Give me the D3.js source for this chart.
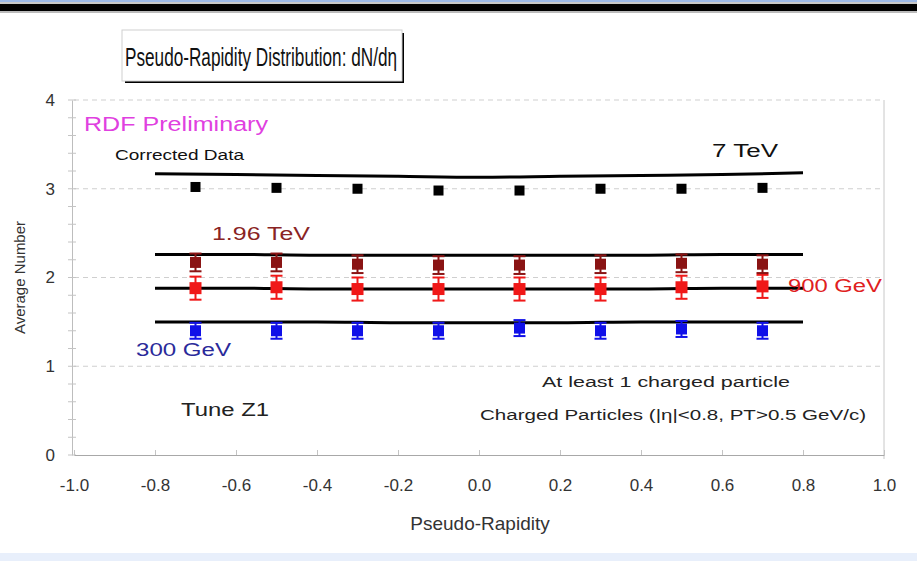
<!DOCTYPE html>
<html>
<head>
<meta charset="utf-8">
<script src="https://cdn.jsdelivr.net/npm/d3@7"></script>
<style>
  html, body { margin: 0; padding: 0; background: #fff; }
  svg { display: block; }
  text { font-family: "Liberation Sans", Arial, sans-serif; }
</style>
</head>
<body>
<svg id="chart" width="917" height="561"></svg>
<script>
// ---------- data ----------
const etaPoints = [-0.7, -0.5, -0.3, -0.1, 0.1, 0.3, 0.5, 0.7];
const data7TeV    = [3.02, 3.01, 3.00, 2.98, 2.98, 3.00, 3.00, 3.01];
const err7TeV     = [0, 0, 0, 0, 0, 0, 0, 0];
const data196TeV  = [2.17, 2.17, 2.15, 2.14, 2.14, 2.15, 2.16, 2.15];
const err196TeV   = [0.10, 0.10, 0.10, 0.10, 0.10, 0.10, 0.10, 0.10];
const data900GeV  = [1.88, 1.89, 1.87, 1.87, 1.87, 1.87, 1.89, 1.90];
const err900GeV   = [0.13, 0.13, 0.13, 0.13, 0.13, 0.13, 0.13, 0.13];
const data300GeV  = [1.40, 1.40, 1.40, 1.40, 1.43, 1.40, 1.42, 1.40];
const err300GeV   = [0.09, 0.09, 0.09, 0.09, 0.09, 0.09, 0.09, 0.09];

const etaTheory   = [-0.8, -0.6, -0.4, -0.2, 0.0, 0.2, 0.4, 0.6, 0.8];
const z1_7TeV     = [3.17, 3.16, 3.15, 3.14, 3.13, 3.14, 3.15, 3.16, 3.18];
const z1_196TeV   = [2.26, 2.26, 2.25, 2.25, 2.25, 2.25, 2.25, 2.26, 2.26];
const z1_900GeV   = [1.88, 1.88, 1.87, 1.87, 1.87, 1.87, 1.87, 1.88, 1.88];
const z1_300GeV   = [1.50, 1.50, 1.50, 1.49, 1.49, 1.49, 1.50, 1.50, 1.50];

const xTicks = [-1.0, -0.8, -0.6, -0.4, -0.2, 0.0, 0.2, 0.4, 0.6, 0.8, 1.0];
const yTicks = [0, 1, 2, 3, 4];

// ---------- layout ----------
const svg = d3.select("#chart");
const W = 917, H = 561;
const x = d3.scaleLinear().domain([-1, 1]).range([74, 884]);
const y = d3.scaleLinear().domain([0, 4]).range([455, 100]);

// background bands
svg.append("rect").attr("x", 0).attr("y", 0).attr("width", W).attr("height", 2).attr("fill", "#9db9e6");
svg.append("rect").attr("x", 0).attr("y", 2).attr("width", W).attr("height", 2).attr("fill", "#c8c8c8");
svg.append("rect").attr("x", 0).attr("y", 4).attr("width", W).attr("height", 7).attr("fill", "#000");
svg.append("rect").attr("x", 0).attr("y", 11).attr("width", W).attr("height", 2).attr("fill", "#bbbbbb");
svg.append("rect").attr("x", 0).attr("y", 553).attr("width", W).attr("height", 8).attr("fill", "#e8effb");

// gridlines (dashed)
svg.append("g").selectAll("line").data(yTicks.filter(d => d > 0)).join("line")
  .attr("x1", x(-1)).attr("x2", x(1))
  .attr("y1", d => y(d)).attr("y2", d => y(d))
  .attr("stroke", "#cfcfcf").attr("stroke-width", 1).attr("stroke-dasharray", "5,4");

// plot frame right side
svg.append("line").attr("x1", x(1)).attr("x2", x(1)).attr("y1", y(4)).attr("y2", y(0) + 4)
  .attr("stroke", "#c8c8c8").attr("stroke-width", 1);

// y axis
const yAxis = d3.axisLeft(y).tickValues(yTicks).tickFormat(d3.format("d")).tickSize(0).tickPadding(17);
const gy = svg.append("g").attr("transform", `translate(${x(-1) - 2},0)`).call(yAxis);
gy.select(".domain").attr("stroke", "#bdbdbd");
gy.selectAll("text").attr("font-size", 17).attr("fill", "#333");
// y minor ticks
const yMinor = d3.range(0, 4.001, 0.2);
svg.append("g").selectAll("line").data(yMinor).join("line")
  .attr("x1", x(-1) - 6).attr("x2", x(-1) + 2)
  .attr("y1", d => y(d)).attr("y2", d => y(d))
  .attr("stroke", "#c4c4c4").attr("stroke-width", 1);

// x axis
const fmtX = d => d3.format(".1f")(d).replace("\u2212", "-");
const xAxis = d3.axisBottom(x).tickValues(xTicks).tickFormat(fmtX).tickSizeInner(-5).tickSizeOuter(0).tickPadding(24);
const gx = svg.append("g").attr("transform", `translate(0,${y(0)})`).call(xAxis);
gx.select(".domain").attr("stroke", "#a8a8a8");
gx.selectAll(".tick line").attr("stroke", "#c4c4c4");
gx.selectAll("text").attr("font-size", 17).attr("fill", "#333");

// theory lines
const line = d3.line().x((d, i) => x(etaTheory[i])).y(d => y(d)).curve(d3.curveMonotoneX);
[z1_7TeV, z1_196TeV, z1_900GeV, z1_300GeV].forEach(arr => {
  svg.append("path").attr("d", line(arr)).attr("fill", "none")
    .attr("stroke", "#000").attr("stroke-width", 3);
});

// data series with error bars
function series(vals, errs, color, size) {
  const g = svg.append("g");
  const pts = etaPoints.map((e, i) => ({ e, v: vals[i], err: errs[i] }));
  const withErr = pts.filter(d => d.err > 0);
  g.selectAll("line.eb").data(withErr).join("line").attr("class", "eb")
    .attr("x1", d => x(d.e)).attr("x2", d => x(d.e))
    .attr("y1", d => y(d.v - d.err)).attr("y2", d => y(d.v + d.err))
    .attr("stroke", color).attr("stroke-width", 2);
  ["lo", "hi"].forEach(k => {
    g.selectAll("line.cap" + k).data(withErr).join("line").attr("class", "cap" + k)
      .attr("x1", d => x(d.e) - 6).attr("x2", d => x(d.e) + 6)
      .attr("y1", d => y(k === "lo" ? d.v - d.err : d.v + d.err))
      .attr("y2", d => y(k === "lo" ? d.v - d.err : d.v + d.err))
      .attr("stroke", color).attr("stroke-width", 2);
  });
  g.selectAll("rect").data(pts).join("rect")
    .attr("x", d => x(d.e) - size / 2).attr("y", d => y(d.v) - size / 2)
    .attr("width", size).attr("height", size).attr("fill", color);
}
series(data300GeV, err300GeV, "#1010e8", 11);
series(data900GeV, err900GeV, "#f01818", 12);
series(data196TeV, err196TeV, "#8a1414", 11);
series(data7TeV, err7TeV, "#000", 10);

// title box
const tb = svg.append("g");
tb.append("rect").attr("x", 125).attr("y", 33).attr("width", 279).attr("height", 50).attr("fill", "#000");
tb.append("rect").attr("x", 122).attr("y", 30).attr("width", 280).attr("height", 51)
  .attr("fill", "#fff").attr("stroke", "#d0d0d0").attr("stroke-width", 1);
tb.append("text").attr("x", 261).attr("y", 66).attr("text-anchor", "middle")
  .attr("font-size", 26).attr("fill", "#111").attr("textLength", 272).attr("lengthAdjust", "spacingAndGlyphs")
  .text("Pseudo-Rapidity Distribution: dN/dη");

// annotations
function label(txt, xp, yp, size, color, anchor = "start", len = null) {
  const t = svg.append("text").attr("x", xp).attr("y", yp).attr("font-size", size)
    .attr("fill", color).attr("text-anchor", anchor).text(txt);
  if (len) t.attr("textLength", len).attr("lengthAdjust", "spacingAndGlyphs");
  return t;
}
label("RDF Preliminary", 84, 131, 20, "#e040e0", "start", 184);
label("Corrected Data", 115, 160, 14, "#111", "start", 129);
label("7 TeV", 712, 157, 18, "#111", "start", 66);
label("1.96 TeV", 212, 240, 18, "#8a2424", "start", 98);
label("900 GeV", 788, 292, 18, "#e02020", "start", 94);
label("300 GeV", 136, 356, 18, "#2a2a9a", "start", 95);
label("Tune Z1", 181, 416, 18, "#222", "start", 88);
label("At least 1 charged particle", 542, 387, 14, "#222", "start", 248);
label("Charged Particles (|η|<0.8, PT>0.5 GeV/c)", 480, 420, 14, "#222", "start", 386);

// axis titles
svg.append("text").attr("x", 480).attr("y", 530).attr("text-anchor", "middle")
  .attr("font-size", 19).attr("fill", "#333").text("Pseudo-Rapidity");
svg.append("text").attr("transform", `translate(25,${(y(0) + y(4)) / 2}) rotate(-90)`)
  .attr("text-anchor", "middle").attr("font-size", 15).attr("fill", "#333").text("Average Number");
</script>
</body>
</html>
